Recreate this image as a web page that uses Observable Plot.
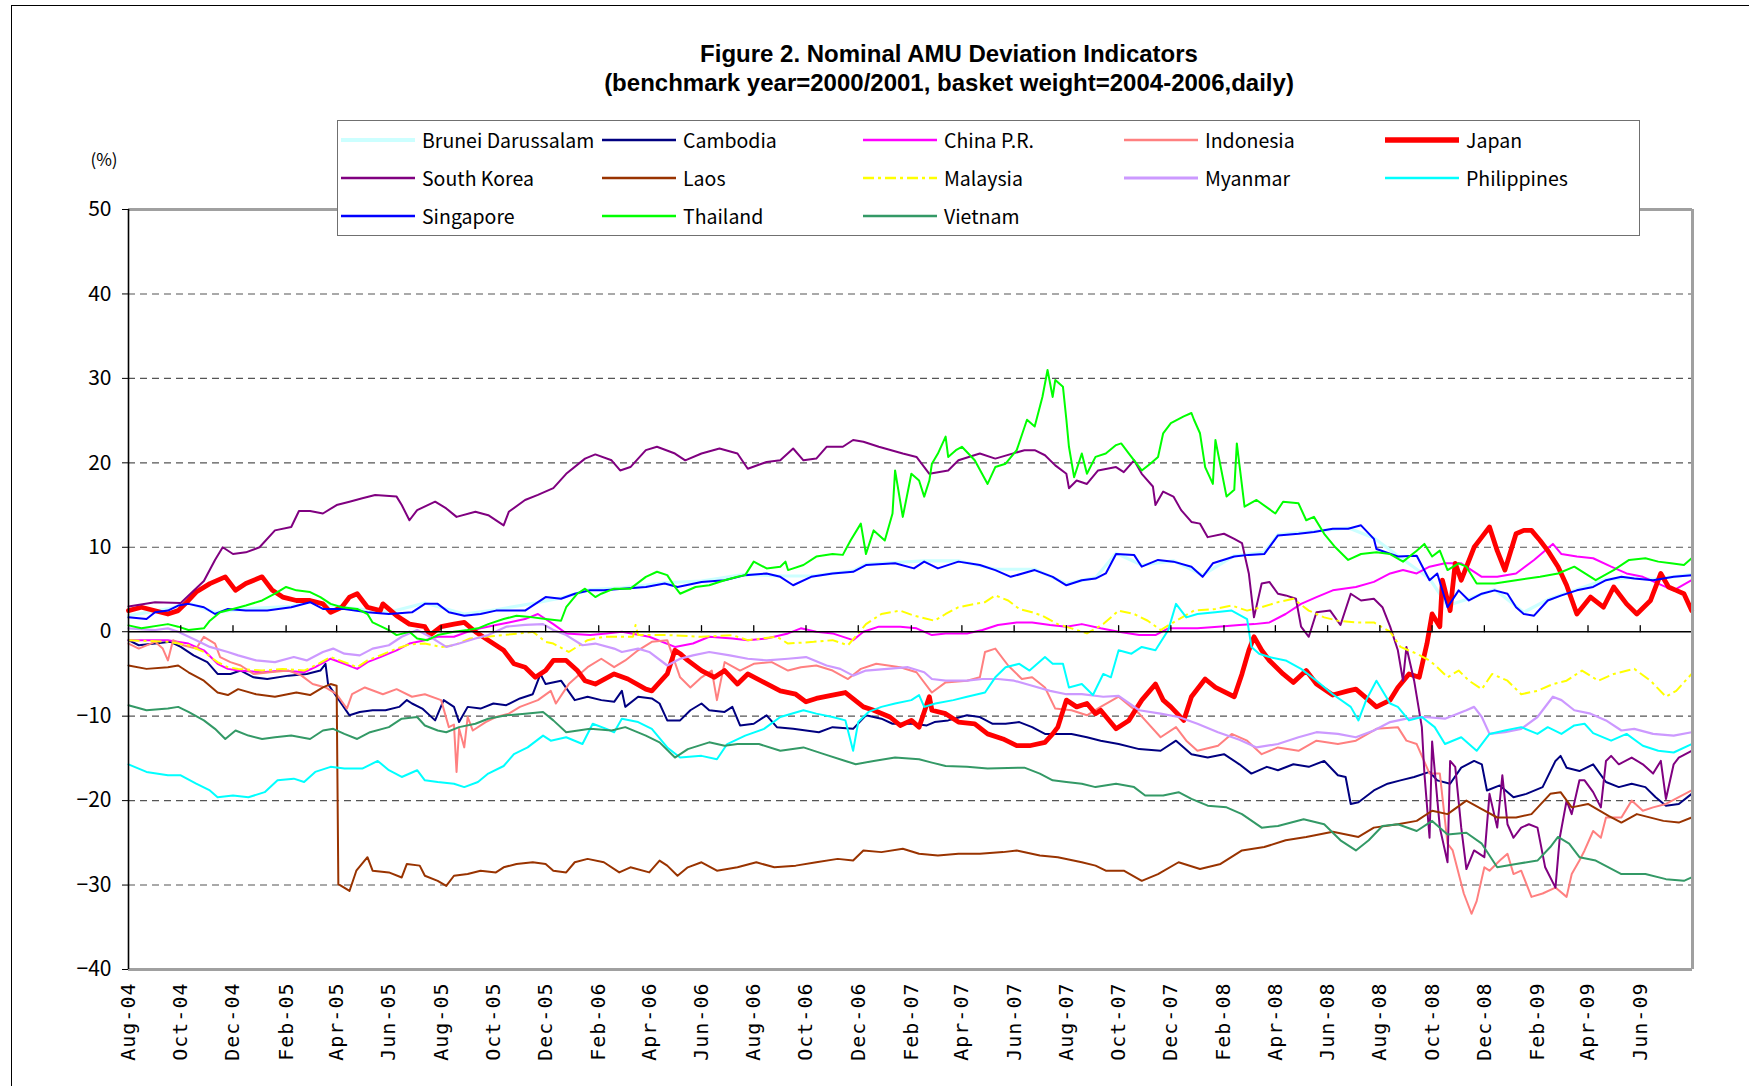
<!DOCTYPE html>
<html>
<head>
<meta charset="utf-8">
<script src="https://cdn.jsdelivr.net/npm/d3@7"></script>
<script src="https://cdn.jsdelivr.net/npm/@observablehq/plot@0.6"></script>
<style>
  body { margin: 0; background: #fff; }
  #wrap { position: relative; width: 1749px; height: 1086px; overflow: hidden; background: #fff;
          font-family: "Noto Sans CJK JP", "Noto Sans", sans-serif; }
  #chart { position: absolute; left: 0; top: 0; }
  #outer { position: absolute; left: 11px; top: 5px; width: 1800px; height: 1200px;
           border-left: 1px solid #000; border-top: 1px solid #000; pointer-events: none; }
  .title { position: absolute; left: 449px; width: 1000px; text-align: center; font-weight: bold;
           font-family: "Liberation Sans", Arial, sans-serif;
           font-size: 24px; line-height: 27px; height: 27px; color: #000; white-space: nowrap; }
  #legend { position: absolute; left: 337px; top: 120px; width: 1301px; height: 114px;
            border: 1.5px solid #707070; background: #fff; }
  #legend .lbl { position: absolute; font-size: 19.5px; line-height: 24px; white-space: nowrap; color: #000; }
  #legend svg { position: absolute; }
  #unit { position: absolute; left: 84px; top: 146px; width: 40px; text-align: center; font-size: 17px; }
</style>
</head>
<body>
<div id="wrap">
  <div id="chart"></div>
  <div id="outer"></div>
  <div class="title" style="top:40px">Figure 2. Nominal AMU Deviation Indicators</div>
  <div class="title" style="top:69px">(benchmark year=2000/2001, basket weight=2004-2006,daily)</div>
  <div id="unit">(%)</div>
  <div id="legend"></div>
</div>
<script>
// ---------- tick labels ----------
const xTickLabels = ["Aug-04","Oct-04","Dec-04","Feb-05","Apr-05","Jun-05","Aug-05","Oct-05","Dec-05",
  "Feb-06","Apr-06","Jun-06","Aug-06","Oct-06","Dec-06","Feb-07","Apr-07","Jun-07","Aug-07","Oct-07",
  "Dec-07","Feb-08","Apr-08","Jun-08","Aug-08","Oct-08","Dec-08","Feb-09","Apr-09","Jun-09"];
const yTicks = [-40, -30, -20, -10, 0, 10, 20, 30, 40, 50];
const xDomain = ["2004-08-01", "2009-08-01"];

// ---------- series (date, % deviation) ----------
const brunei = [["2004-08-01",1.9],["2004-09-16",2.7],["2004-10-10",3.4],["2004-11-10",2.3],["2004-12-16",2.7],["2005-02-07",3.0],["2005-03-01",3.6],["2005-04-10",2.9],["2005-06-01",2.3],["2005-07-13",3.4],["2005-08-28",2.1],["2005-10-04",2.6],["2005-11-19",3.4],["2005-12-19",4.0],["2006-01-22",5.0],["2006-03-01",5.2],["2006-04-19",5.8],["2006-06-01",6.0],["2006-07-22",6.8],["2006-09-01",6.6],["2006-10-07",6.6],["2006-11-25",7.2],["2006-12-10",8.0],["2007-01-13",8.2],["2007-02-16",8.4],["2007-03-28",8.4],["2007-05-10",7.4],["2007-06-25",7.4],["2007-08-01",5.7],["2007-09-04",6.4],["2007-09-28",9.3],["2007-10-28",7.9],["2007-12-04",8.4],["2008-01-07",6.7],["2008-02-13",9.0],["2008-03-19",9.4],["2008-04-04",11.5],["2008-05-16",11.9],["2008-06-25",12.3],["2008-07-25",11.1],["2008-08-22",9.0],["2008-09-28",6.3],["2008-10-19",3.1],["2008-11-13",3.9],["2008-12-13",5.0],["2009-01-16",2.3],["2009-02-13",3.8],["2009-03-19",5.0],["2009-04-22",6.2],["2009-05-25",6.4],["2009-06-16",6.2],["2009-07-31",6.8]];

const cambodia = [["2004-08-01",-1.0],["2004-08-13",-1.6],["2004-09-01",-1.4],["2004-09-19",-1.2],["2004-10-01",-1.8],["2004-10-16",-2.8],["2004-11-01",-3.6],["2004-11-13",-5.0],["2004-11-28",-5.0],["2004-12-10",-4.6],["2004-12-25",-5.4],["2005-01-10",-5.6],["2005-02-04",-5.2],["2005-02-25",-5.0],["2005-03-13",-4.6],["2005-03-19",-3.8],["2005-03-22",-6.2],["2005-04-01",-7.7],["2005-04-16",-9.9],["2005-04-28",-9.5],["2005-05-13",-9.3],["2005-05-28",-9.3],["2005-06-13",-8.9],["2005-06-22",-8.1],["2005-06-28",-8.5],["2005-07-10",-9.1],["2005-07-25",-10.5],["2005-08-04",-8.1],["2005-08-16",-8.9],["2005-08-22",-10.7],["2005-09-01",-8.9],["2005-09-16",-9.1],["2005-10-01",-8.5],["2005-10-16",-8.7],["2005-11-01",-7.9],["2005-11-16",-7.4],["2005-11-25",-5.0],["2005-12-01",-6.2],["2005-12-19",-5.8],["2006-01-04",-8.1],["2006-01-19",-7.7],["2006-02-04",-8.1],["2006-02-19",-8.3],["2006-02-28",-7.0],["2006-03-04",-8.9],["2006-03-19",-7.7],["2006-04-04",-7.9],["2006-04-13",-8.5],["2006-04-22",-10.5],["2006-05-07",-10.5],["2006-05-19",-9.3],["2006-06-01",-8.5],["2006-06-10",-9.3],["2006-06-28",-9.5],["2006-07-07",-8.9],["2006-07-16",-11.1],["2006-08-01",-10.9],["2006-08-16",-9.9],["2006-08-28",-11.3],["2006-09-16",-11.5],["2006-10-01",-11.7],["2006-10-16",-11.9],["2006-11-01",-11.3],["2006-11-25",-11.5],["2006-12-10",-9.9],["2006-12-28",-10.3],["2007-01-10",-10.9],["2007-02-04",-10.9],["2007-02-19",-11.1],["2007-02-28",-10.7],["2007-03-16",-10.5],["2007-04-07",-9.9],["2007-04-22",-10.1],["2007-05-07",-10.9],["2007-05-22",-10.9],["2007-06-07",-10.7],["2007-06-22",-11.3],["2007-07-07",-12.1],["2007-08-07",-12.1],["2007-08-25",-12.5],["2007-09-10",-12.9],["2007-10-01",-13.3],["2007-10-25",-13.9],["2007-11-19",-14.1],["2007-12-07",-12.9],["2007-12-25",-14.5],["2008-01-13",-14.9],["2008-02-01",-14.5],["2008-02-19",-15.7],["2008-03-04",-16.8],["2008-03-22",-16.0],["2008-04-04",-16.4],["2008-04-22",-15.7],["2008-05-10",-16.0],["2008-05-28",-15.3],["2008-06-13",-17.0],["2008-06-22",-17.2],["2008-06-28",-20.4],["2008-07-07",-20.2],["2008-07-25",-18.8],["2008-08-10",-18.0],["2008-08-25",-17.6],["2008-09-10",-17.2],["2008-09-28",-16.6],["2008-10-07",-17.6],["2008-10-22",-18.0],["2008-11-04",-16.1],["2008-11-19",-15.3],["2008-11-28",-15.7],["2008-12-04",-18.8],["2008-12-19",-18.2],["2009-01-04",-19.6],["2009-01-19",-19.2],["2009-02-07",-18.4],["2009-02-22",-15.3],["2009-02-28",-14.7],["2009-03-07",-16.1],["2009-03-22",-16.5],["2009-04-07",-15.7],["2009-04-22",-17.8],["2009-05-07",-18.4],["2009-05-22",-18.0],["2009-06-07",-18.4],["2009-06-19",-19.6],["2009-07-01",-20.6],["2009-07-16",-20.4],["2009-07-31",-19.2]];

const china = [["2004-08-01",-1.0],["2004-09-16",-1.0],["2004-10-10",-1.4],["2004-10-28",-2.2],["2004-11-13",-3.8],["2004-11-25",-4.4],["2004-12-07",-4.6],["2005-01-04",-4.8],["2005-01-28",-4.6],["2005-02-22",-4.8],["2005-03-07",-4.2],["2005-03-25",-3.2],["2005-04-10",-3.8],["2005-04-25",-4.4],["2005-05-07",-3.6],["2005-05-22",-3.0],["2005-06-10",-2.2],["2005-06-25",-1.4],["2005-07-13",-1.0],["2005-07-28",-0.6],["2005-08-16",-0.6],["2005-09-01",0.0],["2005-09-16",0.4],["2005-10-04",0.8],["2005-10-19",1.1],["2005-11-07",1.5],["2005-11-22",2.1],["2005-12-10",0.9],["2005-12-25",-0.2],["2006-01-22",-0.4],["2006-02-10",-0.2],["2006-02-28",0.0],["2006-04-01",-0.6],["2006-05-01",-1.8],["2006-05-22",-1.4],["2006-06-10",-0.6],["2006-07-07",-0.8],["2006-07-25",-1.0],["2006-08-16",-0.8],["2006-09-10",-0.2],["2006-09-25",0.4],["2006-10-13",0.0],["2006-11-01",-0.2],["2006-11-25",-1.0],["2006-12-07",0.0],["2006-12-25",0.6],["2007-01-19",0.6],["2007-02-07",0.4],["2007-02-25",-0.4],["2007-03-13",-0.2],["2007-04-07",-0.2],["2007-04-25",0.2],["2007-05-13",0.8],["2007-06-04",1.1],["2007-06-22",1.1],["2007-07-13",0.8],["2007-08-01",0.6],["2007-08-19",0.9],["2007-09-10",0.4],["2007-10-01",0.0],["2007-10-25",-0.4],["2007-11-13",-0.4],["2007-11-28",0.4],["2008-01-01",0.4],["2008-01-25",0.6],["2008-02-19",0.8],["2008-03-07",0.9],["2008-03-25",1.1],["2008-04-13",2.1],["2008-05-01",3.3],["2008-05-19",4.1],["2008-06-07",4.9],["2008-07-04",5.3],["2008-07-25",5.9],["2008-08-13",6.9],["2008-08-28",7.3],["2008-09-13",6.9],["2008-09-28",7.7],["2008-10-16",8.1],["2008-11-04",8.1],["2008-11-16",7.3],["2008-11-28",6.5],["2008-12-16",6.5],["2009-01-07",6.9],["2009-01-28",8.5],["2009-02-19",10.4],["2009-03-01",9.2],["2009-03-19",8.9],["2009-04-07",8.7],["2009-04-28",7.7],["2009-05-16",6.9],["2009-06-04",6.5],["2009-06-22",5.7],["2009-07-10",4.9],["2009-07-31",6.1]];

const indonesia = [["2004-08-01",-1.4],["2004-08-13",-2.0],["2004-09-01",-1.2],["2004-09-10",-2.0],["2004-09-16",-3.4],["2004-09-22",-1.0],["2004-10-04",-1.6],["2004-10-19",-2.0],["2004-10-28",-0.6],["2004-11-10",-1.4],["2004-11-16",-3.0],["2004-11-28",-3.6],["2004-12-10",-4.0],["2004-12-25",-5.0],["2005-01-13",-4.8],["2005-02-04",-4.6],["2005-02-19",-5.2],["2005-03-04",-6.2],["2005-03-19",-6.6],["2005-04-01",-7.4],["2005-04-13",-9.1],["2005-04-19",-7.4],["2005-05-04",-6.6],["2005-05-25",-7.4],["2005-06-10",-6.8],["2005-06-28",-7.7],["2005-07-13",-7.4],["2005-08-01",-8.1],["2005-08-10",-11.3],["2005-08-16",-11.0],["2005-08-19",-16.6],["2005-08-22",-11.5],["2005-08-28",-13.7],["2005-09-01",-10.1],["2005-09-07",-11.7],["2005-09-22",-10.7],["2005-10-04",-10.1],["2005-10-19",-9.7],["2005-11-01",-8.9],["2005-11-22",-8.1],["2005-12-07",-7.0],["2005-12-13",-8.5],["2005-12-28",-6.2],["2006-01-10",-5.0],["2006-01-19",-4.2],["2006-02-04",-3.2],["2006-02-19",-4.2],["2006-03-04",-3.4],["2006-03-19",-2.2],["2006-04-04",-1.2],["2006-04-22",-1.0],["2006-05-07",-5.4],["2006-05-19",-6.6],["2006-06-01",-5.4],["2006-06-13",-4.6],["2006-06-19",-8.1],["2006-06-28",-3.6],["2006-07-16",-4.6],["2006-08-01",-3.8],["2006-08-22",-3.6],["2006-09-10",-4.6],["2006-09-25",-4.2],["2006-10-13",-4.0],["2006-11-01",-4.6],["2006-11-19",-5.6],["2006-12-04",-4.4],["2006-12-22",-3.8],["2007-01-19",-4.2],["2007-02-07",-4.8],["2007-02-25",-7.2],["2007-03-13",-6.0],["2007-04-07",-5.8],["2007-04-22",-5.4],["2007-04-28",-2.4],["2007-05-10",-2.0],["2007-05-25",-4.0],["2007-06-10",-5.6],["2007-06-22",-5.4],["2007-07-07",-6.6],["2007-07-19",-9.1],["2007-08-07",-9.3],["2007-08-25",-9.9],["2007-09-10",-8.9],["2007-10-01",-7.7],["2007-10-25",-9.7],["2007-11-19",-12.5],["2007-12-07",-11.3],["2007-12-19",-12.9],["2008-01-01",-14.1],["2008-01-25",-13.5],["2008-02-10",-12.1],["2008-02-28",-12.9],["2008-03-16",-14.5],["2008-04-04",-13.7],["2008-04-28",-14.1],["2008-05-19",-12.9],["2008-06-13",-13.3],["2008-07-04",-12.9],["2008-07-28",-11.5],["2008-08-22",-11.3],["2008-09-01",-12.9],["2008-09-13",-13.3],["2008-09-28",-16.8],["2008-10-10",-16.8],["2008-10-19",-25.1],["2008-10-25",-25.9],["2008-11-07",-31.0],["2008-11-16",-33.4],["2008-11-22",-31.9],["2008-12-01",-27.9],["2008-12-07",-28.3],["2008-12-19",-27.1],["2008-12-28",-26.3],["2009-01-04",-28.7],["2009-01-13",-28.3],["2009-01-25",-31.4],["2009-02-07",-31.0],["2009-02-22",-30.3],["2009-03-07",-31.4],["2009-03-13",-28.7],["2009-03-22",-27.1],["2009-03-28",-25.9],["2009-04-07",-23.6],["2009-04-16",-24.4],["2009-04-22",-22.0],["2009-05-10",-22.0],["2009-05-22",-20.0],["2009-06-04",-21.2],["2009-06-16",-20.8],["2009-07-01",-20.4],["2009-07-16",-19.6],["2009-07-31",-18.8]];

const japan = [["2004-08-01",2.5],["2004-08-16",2.9],["2004-09-16",2.1],["2004-09-28",2.5],["2004-10-10",3.7],["2004-10-19",4.7],["2004-11-04",5.7],["2004-11-22",6.5],["2004-12-04",4.9],["2004-12-16",5.7],["2005-01-04",6.5],["2005-01-16",4.9],["2005-01-28",4.1],["2005-02-13",3.7],["2005-03-01",3.7],["2005-03-16",3.3],["2005-03-25",2.3],["2005-04-07",2.9],["2005-04-16",4.1],["2005-04-25",4.5],["2005-05-07",2.9],["2005-05-22",2.5],["2005-05-25",3.3],["2005-06-10",1.9],["2005-06-25",0.9],["2005-07-13",0.6],["2005-07-19",-0.4],["2005-08-01",0.6],["2005-08-16",0.9],["2005-08-28",1.1],["2005-09-10",0.0],["2005-09-25",-1.0],["2005-10-13",-2.2],["2005-10-25",-3.8],["2005-11-07",-4.2],["2005-11-19",-5.4],["2005-12-01",-4.6],["2005-12-10",-3.4],["2005-12-25",-3.4],["2006-01-07",-4.6],["2006-01-16",-5.8],["2006-01-28",-6.2],["2006-02-19",-5.0],["2006-03-07",-5.6],["2006-03-28",-6.8],["2006-04-04",-7.0],["2006-04-22",-5.0],["2006-05-01",-2.2],["2006-05-07",-2.6],["2006-05-16",-3.4],["2006-06-01",-4.6],["2006-06-16",-5.4],["2006-06-28",-4.6],["2006-07-13",-6.2],["2006-07-25",-5.0],["2006-08-13",-6.0],["2006-09-01",-7.0],["2006-09-19",-7.4],["2006-10-01",-8.3],["2006-10-13",-7.9],["2006-11-01",-7.5],["2006-11-16",-7.2],["2006-12-07",-8.9],["2006-12-19",-9.3],["2007-01-07",-10.1],["2007-01-19",-11.1],["2007-02-01",-10.5],["2007-02-10",-11.3],["2007-02-22",-7.7],["2007-02-25",-9.3],["2007-03-13",-9.7],["2007-03-28",-10.7],["2007-04-16",-10.9],["2007-05-01",-12.1],["2007-05-19",-12.7],["2007-06-04",-13.5],["2007-06-19",-13.5],["2007-07-07",-13.1],["2007-07-16",-12.1],["2007-07-22",-11.3],["2007-08-01",-8.1],["2007-08-13",-8.9],["2007-08-25",-8.5],["2007-09-04",-9.7],["2007-09-10",-9.3],["2007-09-28",-11.5],["2007-10-13",-10.5],["2007-10-28",-8.1],["2007-11-13",-6.2],["2007-11-22",-8.1],["2007-12-01",-8.9],["2007-12-16",-10.5],["2007-12-25",-7.7],["2008-01-10",-5.6],["2008-01-22",-6.6],["2008-02-13",-7.7],["2008-02-22",-5.0],["2008-03-01",-2.2],["2008-03-07",-0.6],["2008-03-16",-2.2],["2008-03-25",-3.4],["2008-04-10",-5.0],["2008-04-22",-6.0],["2008-05-07",-4.6],["2008-05-19",-6.2],["2008-06-07",-7.5],["2008-06-25",-7.0],["2008-07-04",-6.8],["2008-07-19",-8.1],["2008-07-28",-8.9],["2008-08-13",-8.1],["2008-08-22",-6.6],["2008-09-04",-5.0],["2008-09-16",-5.4],["2008-09-25",-1.4],["2008-10-01",2.1],["2008-10-10",0.6],["2008-10-13",6.1],["2008-10-22",2.5],["2008-10-28",8.1],["2008-11-04",6.1],["2008-11-19",10.0],["2008-11-28",11.2],["2008-12-07",12.4],["2008-12-16",9.6],["2008-12-25",7.3],["2009-01-07",11.6],["2009-01-16",12.0],["2009-01-25",12.0],["2009-02-04",10.8],["2009-02-13",9.6],["2009-02-25",7.7],["2009-03-07",5.5],["2009-03-19",2.1],["2009-04-04",4.1],["2009-04-19",2.9],["2009-05-01",5.3],["2009-05-16",3.3],["2009-05-28",2.1],["2009-06-13",3.7],["2009-06-25",6.9],["2009-07-04",5.3],["2009-07-13",4.9],["2009-07-22",4.5],["2009-07-31",2.5]];

const korea = [["2004-08-01",3.0],["2004-09-01",3.5],["2004-10-01",3.4],["2004-10-28",6.0],["2004-11-10",8.5],["2004-11-19",10.0],["2004-12-01",9.2],["2004-12-16",9.4],["2005-01-01",10.0],["2005-01-19",12.0],["2005-02-07",12.4],["2005-02-16",14.3],["2005-03-01",14.3],["2005-03-16",14.0],["2005-04-01",15.0],["2005-04-16",15.4],["2005-05-01",15.8],["2005-05-16",16.2],["2005-06-10",16.0],["2005-06-16",15.0],["2005-06-25",13.2],["2005-07-04",14.4],["2005-07-25",15.4],["2005-08-07",14.6],["2005-08-19",13.6],["2005-09-10",14.2],["2005-09-25",13.8],["2005-10-13",12.6],["2005-10-19",14.2],["2005-11-07",15.6],["2005-11-22",16.2],["2005-12-10",17.0],["2005-12-25",18.7],["2006-01-16",20.5],["2006-01-28",21.0],["2006-02-16",20.3],["2006-02-26",19.1],["2006-03-10",19.5],["2006-03-28",21.5],["2006-04-10",21.9],["2006-05-01",21.1],["2006-05-13",20.3],["2006-06-01",21.1],["2006-06-22",21.7],["2006-07-13",21.1],["2006-07-25",19.3],["2006-08-16",20.1],["2006-09-01",20.3],["2006-09-16",21.7],["2006-09-28",20.3],["2006-10-13",20.5],["2006-10-25",21.9],["2006-11-13",21.9],["2006-11-25",22.7],["2006-12-07",22.5],["2006-12-25",21.9],["2007-01-22",21.1],["2007-02-07",20.7],["2007-02-22",18.7],["2007-03-16",19.1],["2007-03-28",20.3],["2007-04-22",21.1],["2007-05-10",20.5],["2007-06-13",21.5],["2007-06-25",21.5],["2007-07-07",20.9],["2007-07-19",19.7],["2007-08-01",18.7],["2007-08-04",17.0],["2007-08-13",17.9],["2007-08-25",17.5],["2007-09-07",19.1],["2007-09-28",19.5],["2007-10-07",18.9],["2007-10-19",20.3],["2007-10-28",18.7],["2007-11-10",17.2],["2007-11-13",15.0],["2007-11-22",16.6],["2007-12-04",16.0],["2007-12-13",14.4],["2007-12-25",13.0],["2008-01-04",12.8],["2008-01-13",11.2],["2008-02-01",11.6],["2008-02-13",11.0],["2008-02-22",10.5],["2008-03-01",6.9],["2008-03-07",1.7],["2008-03-16",5.7],["2008-03-25",5.9],["2008-04-04",4.5],["2008-04-13",4.3],["2008-04-25",3.9],["2008-05-01",0.6],["2008-05-10",-0.6],["2008-05-19",2.3],["2008-06-04",2.5],["2008-06-16",0.8],["2008-06-28",4.5],["2008-07-10",3.7],["2008-07-25",3.9],["2008-08-04",2.9],["2008-08-13",0.6],["2008-08-22",-2.2],["2008-08-28",-5.8],["2008-09-01",-1.8],["2008-09-10",-5.8],["2008-09-19",-11.3],["2008-09-22",-16.8],["2008-09-28",-24.4],["2008-10-01",-13.0],["2008-10-10",-23.2],["2008-10-19",-27.3],["2008-10-22",-15.3],["2008-10-28",-16.0],["2008-11-04",-23.2],["2008-11-10",-28.1],["2008-11-19",-25.9],["2008-12-01",-26.7],["2008-12-07",-19.2],["2008-12-16",-23.2],["2008-12-22",-17.0],["2008-12-28",-22.8],["2009-01-04",-24.4],["2009-01-13",-23.2],["2009-01-22",-22.8],["2009-02-01",-23.2],["2009-02-10",-27.9],["2009-02-22",-30.3],["2009-02-27",-24.4],["2009-03-07",-20.0],["2009-03-13",-21.6],["2009-03-22",-17.6],["2009-03-28",-17.6],["2009-04-07",-19.0],["2009-04-16",-20.8],["2009-04-22",-15.3],["2009-04-28",-14.7],["2009-05-07",-15.7],["2009-05-22",-14.9],["2009-06-04",-15.7],["2009-06-16",-16.8],["2009-06-25",-15.3],["2009-07-01",-19.8],["2009-07-10",-15.7],["2009-07-16",-14.9],["2009-07-31",-14.1]];

const laos = [["2004-08-01",-4.0],["2004-08-22",-4.4],["2004-09-16",-4.2],["2004-09-28",-4.0],["2004-10-10",-4.8],["2004-10-28",-5.8],["2004-11-13",-7.2],["2004-11-25",-7.5],["2004-12-07",-6.8],["2004-12-28",-7.4],["2005-01-19",-7.7],["2005-02-13",-7.2],["2005-03-01",-7.5],["2005-03-16",-6.6],["2005-03-25",-6.2],["2005-04-01",-6.4],["2005-04-03",-29.9],["2005-04-16",-30.7],["2005-04-24",-28.3],["2005-05-07",-26.7],["2005-05-13",-28.3],["2005-06-01",-28.5],["2005-06-16",-29.1],["2005-06-22",-27.5],["2005-07-07",-27.7],["2005-07-13",-28.9],["2005-07-28",-29.5],["2005-08-07",-30.1],["2005-08-16",-28.9],["2005-09-01",-28.7],["2005-09-16",-28.3],["2005-10-04",-28.5],["2005-10-13",-27.9],["2005-10-28",-27.5],["2005-11-16",-27.3],["2005-12-01",-27.5],["2005-12-10",-28.3],["2005-12-25",-28.5],["2006-01-04",-27.3],["2006-01-19",-26.9],["2006-02-07",-27.3],["2006-02-25",-28.5],["2006-03-10",-27.9],["2006-04-01",-28.5],["2006-04-13",-27.1],["2006-04-22",-27.7],["2006-05-04",-28.9],["2006-05-16",-27.9],["2006-06-01",-27.3],["2006-06-19",-28.3],["2006-07-13",-27.9],["2006-08-04",-27.3],["2006-08-25",-27.9],["2006-09-19",-27.7],["2006-10-13",-27.3],["2006-11-07",-26.9],["2006-11-25",-27.1],["2006-12-07",-25.9],["2006-12-28",-26.1],["2007-01-22",-25.7],["2007-02-10",-26.3],["2007-03-04",-26.5],["2007-03-28",-26.3],["2007-04-22",-26.3],["2007-05-19",-26.1],["2007-06-04",-25.9],["2007-07-01",-26.5],["2007-07-22",-26.7],["2007-08-19",-27.3],["2007-09-04",-27.7],["2007-09-16",-28.3],["2007-10-07",-28.3],["2007-10-28",-29.5],["2007-11-16",-28.7],["2007-12-10",-27.3],["2008-01-04",-28.1],["2008-01-28",-27.5],["2008-02-22",-25.9],["2008-03-19",-25.5],["2008-04-13",-24.7],["2008-05-07",-24.3],["2008-06-07",-23.7],["2008-07-07",-24.3],["2008-07-25",-23.2],["2008-08-22",-22.8],["2008-09-13",-22.4],["2008-10-01",-21.2],["2008-10-19",-21.6],["2008-11-10",-20.0],["2008-11-28",-21.0],["2008-12-16",-22.0],["2009-01-07",-22.0],["2009-01-25",-21.6],["2009-02-16",-19.2],["2009-02-28",-19.0],["2009-03-13",-20.8],["2009-04-01",-20.4],["2009-04-25",-21.8],["2009-05-10",-22.6],["2009-05-28",-21.6],["2009-06-28",-22.4],["2009-07-16",-22.6],["2009-07-31",-22.0]];

const malaysia = [["2004-08-01",-1.0],["2004-09-16",-1.2],["2004-10-10",-1.6],["2004-10-28",-2.4],["2004-11-13",-3.6],["2004-11-25",-4.2],["2004-12-07",-4.4],["2005-01-04",-4.6],["2005-01-28",-4.4],["2005-02-22",-4.6],["2005-03-07",-4.0],["2005-03-25",-3.0],["2005-04-10",-3.6],["2005-04-25",-4.2],["2005-05-07",-3.4],["2005-05-22",-2.8],["2005-06-10",-2.0],["2005-06-25",-1.5],["2005-07-13",-1.4],["2005-08-01",-1.8],["2005-08-16",-1.6],["2005-09-04",-0.8],["2005-09-22",-0.6],["2005-11-01",-0.2],["2005-11-16",0.0],["2005-12-01",-1.2],["2005-12-10",-1.4],["2005-12-28",-2.4],["2006-01-19",-1.0],["2006-02-07",-0.6],["2006-03-13",-0.6],["2006-03-16",0.8],["2006-03-19",-0.4],["2006-04-22",-0.4],["2006-06-01",-0.6],["2006-07-07",-0.4],["2006-07-25",-1.0],["2006-08-28",-0.6],["2006-09-10",-1.4],["2006-10-10",-1.2],["2006-11-01",-1.0],["2006-11-19",-1.6],["2006-12-01",-0.2],["2006-12-10",0.9],["2006-12-28",2.1],["2007-01-19",2.5],["2007-02-04",1.9],["2007-02-28",1.3],["2007-03-13",2.1],["2007-03-28",2.9],["2007-04-16",3.3],["2007-04-28",3.5],["2007-05-10",4.3],["2007-05-25",3.7],["2007-06-07",2.7],["2007-06-22",2.3],["2007-07-04",1.9],["2007-07-22",0.9],["2007-08-07",0.4],["2007-08-25",-0.2],["2007-09-13",0.9],["2007-10-01",2.5],["2007-10-19",2.1],["2007-11-04",1.3],["2007-11-19",0.2],["2007-12-07",1.3],["2007-12-28",2.5],["2008-01-22",2.7],["2008-02-10",3.1],["2008-02-28",2.5],["2008-03-16",2.9],["2008-04-04",3.5],["2008-04-22",3.9],["2008-05-10",2.5],["2008-05-28",1.7],["2008-06-13",1.3],["2008-07-04",1.1],["2008-07-25",1.1],["2008-08-13",0.0],["2008-08-25",-1.8],["2008-09-13",-2.6],["2008-09-28",-3.4],["2008-10-07",-4.2],["2008-10-19",-5.4],["2008-11-01",-4.6],["2008-11-13",-5.8],["2008-11-28",-6.8],["2008-12-10",-5.0],["2008-12-28",-5.8],["2009-01-13",-7.4],["2009-02-01",-7.0],["2009-02-19",-6.2],["2009-03-07",-5.8],["2009-03-25",-4.6],["2009-04-13",-5.8],["2009-05-01",-5.0],["2009-05-25",-4.4],["2009-06-13",-5.8],["2009-07-01",-7.7],["2009-07-13",-7.0],["2009-07-31",-5.0]];

const myanmar = [["2004-08-01",0.4],["2004-09-01",0.2],["2004-09-16",0.4],["2004-09-28",0.0],["2004-10-19",-1.0],["2004-11-04",-1.8],["2004-11-25",-2.4],["2004-12-07",-2.8],["2004-12-28",-3.4],["2005-01-19",-3.6],["2005-02-10",-3.0],["2005-02-25",-3.4],["2005-03-16",-2.4],["2005-03-28",-2.0],["2005-04-10",-2.6],["2005-04-28",-2.8],["2005-05-13",-2.0],["2005-06-01",-1.6],["2005-06-16",-0.6],["2005-07-04",0.2],["2005-07-19",-0.6],["2005-08-07",-1.8],["2005-08-22",-1.4],["2005-09-10",-0.8],["2005-09-25",-0.4],["2005-10-16",0.6],["2005-11-07",0.8],["2005-11-28",0.9],["2005-12-10",0.2],["2005-12-25",-0.4],["2006-01-13",-1.6],["2006-01-28",-1.4],["2006-02-19",-2.0],["2006-02-28",-2.4],["2006-03-19",-2.0],["2006-04-01",-2.4],["2006-04-22",-4.0],["2006-05-07",-3.2],["2006-05-22",-2.8],["2006-06-10",-2.4],["2006-07-04",-2.8],["2006-07-25",-3.2],["2006-08-16",-3.4],["2006-09-10",-3.2],["2006-10-01",-3.0],["2006-10-25",-4.0],["2006-11-10",-4.4],["2006-11-25",-5.2],["2006-12-10",-4.6],["2007-01-04",-4.4],["2007-01-28",-4.2],["2007-02-16",-4.8],["2007-02-25",-5.6],["2007-03-13",-5.8],["2007-04-07",-5.8],["2007-04-25",-5.6],["2007-05-13",-5.6],["2007-06-01",-5.8],["2007-06-22",-6.4],["2007-07-13",-7.0],["2007-08-01",-7.4],["2007-08-19",-7.4],["2007-09-13",-7.7],["2007-10-01",-7.6],["2007-10-25",-9.3],["2007-11-19",-9.7],["2007-12-10",-10.1],["2008-01-01",-10.9],["2008-01-25",-11.9],["2008-02-19",-12.8],["2008-03-10",-13.7],["2008-04-04",-13.3],["2008-04-28",-12.5],["2008-05-19",-11.9],["2008-06-13",-12.1],["2008-07-04",-12.5],["2008-07-25",-11.7],["2008-08-13",-10.7],["2008-09-01",-10.3],["2008-09-22",-10.1],["2008-10-16",-10.3],["2008-11-10",-9.3],["2008-11-19",-8.9],["2008-11-28",-10.1],["2008-12-07",-12.1],["2008-12-25",-11.9],["2009-01-13",-11.5],["2009-02-01",-10.1],["2009-02-19",-7.7],["2009-03-01",-8.1],["2009-03-16",-9.3],["2009-04-04",-9.7],["2009-04-22",-10.5],["2009-05-10",-11.7],["2009-05-25",-11.5],["2009-06-16",-12.1],["2009-07-10",-12.3],["2009-07-31",-11.9]];

const philippines = [["2004-08-01",-15.7],["2004-08-22",-16.6],["2004-09-16",-17.0],["2004-10-01",-17.0],["2004-10-19",-18.0],["2004-11-04",-18.8],["2004-11-13",-19.6],["2004-12-01",-19.4],["2004-12-19",-19.6],["2005-01-07",-19.0],["2005-01-22",-17.6],["2005-02-10",-17.4],["2005-02-22",-17.8],["2005-03-07",-16.6],["2005-03-25",-16.0],["2005-04-10",-16.2],["2005-05-01",-16.2],["2005-05-19",-15.3],["2005-06-01",-16.4],["2005-06-16",-17.2],["2005-07-04",-16.4],["2005-07-13",-17.6],["2005-07-28",-17.8],["2005-08-16",-18.0],["2005-08-28",-18.4],["2005-09-13",-17.8],["2005-09-25",-16.8],["2005-10-13",-15.9],["2005-10-25",-14.5],["2005-11-10",-13.7],["2005-11-28",-12.3],["2005-12-07",-12.9],["2005-12-25",-12.5],["2006-01-13",-13.3],["2006-01-25",-10.9],["2006-02-10",-11.5],["2006-02-19",-11.9],["2006-02-28",-10.3],["2006-03-19",-10.7],["2006-04-04",-11.5],["2006-04-22",-13.7],["2006-05-07",-14.9],["2006-06-01",-14.7],["2006-06-19",-15.1],["2006-07-01",-13.3],["2006-07-22",-12.3],["2006-08-13",-11.5],["2006-09-01",-10.1],["2006-09-28",-9.3],["2006-10-13",-9.7],["2006-11-01",-10.1],["2006-11-16",-10.5],["2006-11-25",-14.1],["2006-12-01",-10.7],["2006-12-13",-9.5],["2006-12-28",-8.9],["2007-01-13",-8.5],["2007-02-01",-8.1],["2007-02-10",-7.5],["2007-02-16",-8.9],["2007-03-01",-8.5],["2007-03-22",-8.1],["2007-04-07",-7.7],["2007-04-28",-7.2],["2007-05-10",-5.4],["2007-05-22",-4.2],["2007-06-07",-3.8],["2007-06-19",-4.6],["2007-07-07",-3.0],["2007-07-16",-3.8],["2007-07-28",-3.8],["2007-08-04",-6.6],["2007-08-19",-6.2],["2007-09-01",-7.5],["2007-09-13",-5.0],["2007-09-22",-5.4],["2007-10-01",-2.2],["2007-10-16",-2.6],["2007-10-28",-1.8],["2007-11-13",-2.2],["2007-11-28",0.2],["2007-12-07",3.3],["2007-12-19",1.7],["2008-01-01",2.1],["2008-01-22",2.3],["2008-02-10",2.5],["2008-02-28",1.5],["2008-03-04",-1.8],["2008-03-13",-2.6],["2008-03-25",-3.0],["2008-04-13",-3.4],["2008-05-01",-4.4],["2008-05-19",-5.8],["2008-06-07",-7.4],["2008-06-28",-8.9],["2008-07-07",-10.5],["2008-07-16",-8.1],["2008-07-28",-5.8],["2008-08-13",-8.5],["2008-08-22",-8.9],["2008-09-04",-10.5],["2008-09-19",-10.1],["2008-10-04",-11.3],["2008-10-16",-13.3],["2008-11-04",-12.5],["2008-11-22",-14.1],["2008-12-07",-12.1],["2008-12-25",-11.7],["2009-01-13",-11.3],["2009-02-01",-12.1],["2009-02-13",-11.3],["2009-03-01",-12.1],["2009-03-16",-11.1],["2009-03-28",-10.9],["2009-04-07",-12.0],["2009-04-28",-12.9],["2009-05-16",-12.1],["2009-06-04",-13.5],["2009-06-22",-14.1],["2009-07-10",-14.3],["2009-07-31",-13.3]];

const singapore = [["2004-08-01",1.7],["2004-08-22",1.5],["2004-09-01",2.3],["2004-09-16",2.5],["2004-09-28",3.1],["2004-10-10",3.3],["2004-10-28",2.9],["2004-11-10",2.1],["2004-11-25",2.7],["2004-12-16",2.5],["2005-01-10",2.5],["2005-02-07",2.9],["2005-03-01",3.5],["2005-03-16",2.7],["2005-04-10",2.7],["2005-05-07",2.3],["2005-06-01",2.1],["2005-06-28",2.3],["2005-07-13",3.3],["2005-07-28",3.3],["2005-08-10",2.3],["2005-08-28",1.9],["2005-09-16",2.1],["2005-10-04",2.5],["2005-11-07",2.5],["2005-11-19",3.3],["2005-12-01",4.1],["2005-12-19",3.9],["2006-01-04",4.5],["2006-01-22",4.9],["2006-02-07",4.9],["2006-03-01",5.1],["2006-03-28",5.3],["2006-04-19",5.7],["2006-05-04",5.3],["2006-06-01",5.9],["2006-06-28",6.1],["2006-07-22",6.7],["2006-08-16",6.9],["2006-09-01",6.5],["2006-09-16",5.5],["2006-10-07",6.5],["2006-11-01",6.9],["2006-11-25",7.1],["2006-12-10",7.9],["2007-01-13",8.1],["2007-02-04",7.5],["2007-02-16",8.3],["2007-03-04",7.5],["2007-03-28",8.3],["2007-04-22",7.9],["2007-05-10",7.3],["2007-05-28",6.5],["2007-06-25",7.3],["2007-07-16",6.5],["2007-08-01",5.5],["2007-08-19",6.1],["2007-09-04",6.3],["2007-09-16",6.9],["2007-09-28",9.2],["2007-10-19",9.1],["2007-10-28",7.7],["2007-11-16",8.5],["2007-12-04",8.3],["2007-12-25",7.7],["2008-01-07",6.5],["2008-01-19",8.1],["2008-02-13",8.9],["2008-03-01",9.1],["2008-03-19",9.2],["2008-04-04",11.4],["2008-04-28",11.6],["2008-05-16",11.8],["2008-06-07",12.2],["2008-06-25",12.2],["2008-07-10",12.6],["2008-07-25",11.0],["2008-07-28",9.8],["2008-08-22",8.9],["2008-09-13",9.0],["2008-09-28",6.1],["2008-10-07",6.9],["2008-10-19",2.9],["2008-11-01",4.9],["2008-11-13",3.7],["2008-11-28",4.5],["2008-12-13",4.9],["2008-12-28",4.5],["2009-01-07",2.9],["2009-01-16",2.1],["2009-01-28",1.9],["2009-02-13",3.7],["2009-03-01",4.3],["2009-03-19",4.9],["2009-04-07",5.3],["2009-04-22",6.1],["2009-05-10",6.5],["2009-05-25",6.3],["2009-06-16",6.1],["2009-07-10",6.5],["2009-07-31",6.7]];

const thailand = [["2004-08-01",0.75],["2004-08-16",0.4],["2004-09-16",0.9],["2004-09-28",0.6],["2004-10-10",0.2],["2004-10-28",0.4],["2004-11-04",1.3],["2004-11-16",2.3],["2004-12-01",2.7],["2004-12-16",3.1],["2005-01-04",3.7],["2005-01-19",4.5],["2005-02-01",5.3],["2005-02-13",4.9],["2005-03-01",4.7],["2005-03-13",4.1],["2005-03-25",3.3],["2005-04-07",2.9],["2005-04-25",2.7],["2005-05-07",2.1],["2005-05-13",1.1],["2005-06-01",0.2],["2005-06-10",-0.4],["2005-06-25",0.0],["2005-07-04",-0.8],["2005-07-16",-1.0],["2005-07-28",-0.4],["2005-08-16",0.0],["2005-09-01",0.2],["2005-09-13",0.4],["2005-09-25",0.9],["2005-10-13",1.5],["2005-10-28",1.9],["2005-11-16",1.7],["2005-12-01",1.5],["2005-12-19",1.3],["2005-12-25",2.9],["2006-01-07",4.5],["2006-01-16",5.1],["2006-01-28",4.1],["2006-02-04",4.5],["2006-02-19",5.1],["2006-03-10",5.1],["2006-03-28",6.5],["2006-04-10",7.1],["2006-04-22",6.7],["2006-05-01",5.3],["2006-05-07",4.5],["2006-05-25",5.3],["2006-06-10",5.5],["2006-06-28",6.1],["2006-07-13",6.5],["2006-07-22",6.7],["2006-08-01",8.3],["2006-08-16",7.5],["2006-09-01",7.7],["2006-09-07",8.3],["2006-09-10",7.3],["2006-09-28",7.9],["2006-10-13",8.9],["2006-11-01",9.2],["2006-11-13",9.1],["2006-11-22",10.8],["2006-12-04",12.8],["2006-12-10",9.2],["2006-12-19",12.0],["2007-01-01",10.8],["2007-01-10",14.0],["2007-01-13",19.1],["2007-01-22",13.6],["2007-02-01",18.7],["2007-02-10",17.9],["2007-02-16",16.0],["2007-02-22",17.9],["2007-02-25",19.9],["2007-03-04",21.1],["2007-03-13",23.1],["2007-03-16",20.7],["2007-03-25",21.5],["2007-04-01",21.9],["2007-04-16",20.3],["2007-05-01",17.5],["2007-05-10",19.5],["2007-05-22",19.9],["2007-06-04",21.5],["2007-06-16",25.1],["2007-06-25",24.3],["2007-07-04",27.8],["2007-07-10",31.0],["2007-07-16",27.8],["2007-07-19",29.8],["2007-07-28",29.0],["2007-08-01",25.1],["2007-08-04",21.9],["2007-08-10",18.3],["2007-08-19",21.1],["2007-08-25",18.7],["2007-09-04",20.7],["2007-09-16",21.1],["2007-09-28",22.1],["2007-10-04",22.3],["2007-10-13",21.1],["2007-10-28",19.1],["2007-11-07",19.9],["2007-11-16",20.7],["2007-11-22",23.5],["2007-12-01",24.7],["2007-12-16",25.5],["2007-12-25",25.9],["2007-12-28",25.1],["2008-01-04",23.5],["2008-01-10",19.5],["2008-01-19",17.5],["2008-01-22",22.7],["2008-02-04",16.0],["2008-02-13",16.8],["2008-02-16",22.3],["2008-02-25",14.8],["2008-03-10",15.6],["2008-04-01",14.0],["2008-04-10",15.4],["2008-04-28",15.2],["2008-05-07",13.2],["2008-05-16",13.6],["2008-05-28",11.6],["2008-06-10",10.0],["2008-06-25",8.5],["2008-07-10",9.2],["2008-07-28",9.4],["2008-08-13",9.2],["2008-08-28",8.3],["2008-09-13",9.6],["2008-09-22",10.4],["2008-10-01",8.9],["2008-10-10",9.6],["2008-10-19",7.3],["2008-11-01",8.1],["2008-11-10",7.7],["2008-11-22",5.7],["2008-12-13",5.7],["2009-01-07",6.1],["2009-02-04",6.5],["2009-02-25",6.9],["2009-03-16",7.7],["2009-04-10",6.1],["2009-05-01",7.3],["2009-05-19",8.5],["2009-06-07",8.7],["2009-06-22",8.3],["2009-07-07",8.1],["2009-07-22",7.9],["2009-07-31",8.7]];

const vietnam = [["2004-08-01",-8.7],["2004-08-22",-9.3],["2004-09-16",-9.1],["2004-09-28",-8.9],["2004-10-10",-9.5],["2004-10-28",-10.5],["2004-11-10",-11.5],["2004-11-22",-12.7],["2004-12-04",-11.7],["2004-12-19",-12.3],["2005-01-04",-12.7],["2005-01-19",-12.5],["2005-02-07",-12.3],["2005-03-01",-12.7],["2005-03-16",-11.7],["2005-03-28",-11.5],["2005-04-10",-12.1],["2005-04-25",-12.7],["2005-05-10",-11.9],["2005-06-01",-11.3],["2005-06-16",-10.3],["2005-07-04",-10.1],["2005-07-13",-11.1],["2005-07-28",-11.7],["2005-08-07",-11.9],["2005-08-22",-11.3],["2005-09-10",-10.9],["2005-09-25",-10.3],["2005-10-16",-9.9],["2005-11-07",-9.7],["2005-11-28",-9.5],["2005-12-10",-10.5],["2005-12-25",-11.9],["2006-01-22",-11.5],["2006-02-16",-11.7],["2006-03-04",-11.3],["2006-03-28",-12.3],["2006-04-13",-13.1],["2006-05-01",-14.9],["2006-05-16",-13.9],["2006-06-10",-13.1],["2006-06-28",-13.5],["2006-07-13",-13.3],["2006-08-07",-13.3],["2006-09-01",-14.1],["2006-09-28",-13.7],["2006-10-22",-14.5],["2006-11-16",-15.3],["2006-11-28",-15.7],["2006-12-19",-15.3],["2007-01-13",-14.9],["2007-02-10",-15.1],["2007-02-25",-15.5],["2007-03-13",-15.9],["2007-04-07",-16.0],["2007-05-01",-16.2],["2007-06-13",-16.1],["2007-07-01",-16.8],["2007-07-16",-17.6],["2007-08-01",-17.8],["2007-08-19",-18.0],["2007-09-04",-18.4],["2007-09-28",-18.0],["2007-10-19",-18.4],["2007-11-01",-19.4],["2007-11-22",-19.4],["2007-12-10",-19.0],["2007-12-25",-19.8],["2008-01-13",-20.6],["2008-02-04",-20.8],["2008-02-22",-21.6],["2008-03-16",-23.2],["2008-04-04",-23.0],["2008-05-04",-22.2],["2008-05-28",-22.8],["2008-06-16",-24.7],["2008-07-04",-25.9],["2008-07-19",-24.7],["2008-08-04",-23.0],["2008-08-22",-22.8],["2008-09-13",-23.6],["2008-10-01",-22.4],["2008-10-19",-24.0],["2008-11-10",-23.8],["2008-11-28",-25.1],["2008-12-16",-27.9],["2009-01-07",-27.5],["2009-02-01",-27.1],["2009-02-16",-25.5],["2009-02-25",-24.3],["2009-03-10",-25.1],["2009-03-22",-26.7],["2009-04-10",-27.1],["2009-05-10",-28.7],["2009-06-07",-28.7],["2009-07-01",-29.3],["2009-07-22",-29.5],["2009-07-31",-29.1]];

// ---------- series table (legend order = drawing order) ----------
const seriesNames = ["Brunei Darussalam","Cambodia","China P.R.","Indonesia","Japan","South Korea","Laos",
  "Malaysia","Myanmar","Philippines","Singapore","Thailand","Vietnam"];
const seriesData = [brunei, cambodia, china, indonesia, japan, korea, laos, malaysia, myanmar, philippines, singapore, thailand, vietnam];
const seriesColors = ["#ccffff","#000080","#ff00ff","#ff8080","#ff0000","#800080","#993300",
  "#ffff00","#cc99ff","#00ffff","#0000ff","#00ff00","#339966"];
const seriesWidths = [3.2, 2, 2, 2, 4.8, 2, 2, 2, 2.2, 2, 2, 2, 2];
const seriesDash = [null,null,null,null,null,null,null,"11,4,3,4",null,null,null,null,null];

const parseDay = d3.utcParse("%Y-%m-%d");
const parseTick = d3.utcParse("%b-%y");
const xTicks = xTickLabels.map(parseTick);
const tickLabelOf = new Map(xTicks.map((d, i) => [+d, xTickLabels[i]]));

const lineMarks = seriesData.map((data, i) => Plot.line(data, {
  x: d => parseDay(d[0]),
  y: d => d[1],
  stroke: seriesColors[i],
  strokeWidth: seriesWidths[i],
  strokeDasharray: seriesDash[i] || undefined,
  strokeLinejoin: "round",
  strokeLinecap: seriesDash[i] ? "butt" : "round"
}));

const tickShape = { draw(ctx, l) { ctx.moveTo(0, 0); ctx.lineTo(0, -l); } };
const dom = xDomain.map(parseDay);

const chart = Plot.plot({
  width: 1749,
  height: 1086,
  marginLeft: 128,
  marginRight: 57,
  marginTop: 209,
  marginBottom: 117,
  style: { fontFamily: '"Noto Sans CJK JP", "Noto Sans", sans-serif', fontSize: "20px", background: "transparent", color: "#000" },
  x: { type: "utc", domain: dom },
  y: { domain: [-40, 50] },
  marks: [
    Plot.ruleY(yTicks.filter(v => v !== 0 && v !== 50 && v !== -40), { stroke: "#555", strokeWidth: 1.1, strokeDasharray: "7,5" }),
    ...lineMarks,
    Plot.ruleY([0], { stroke: "#000", strokeWidth: 1.6 }),
    Plot.vector(xTicks.slice(1), { x: d => d, y: 0, length: 6, rotate: 0, anchor: "start", shape: tickShape, stroke: "#000", strokeWidth: 1.3 }),
    Plot.ruleY([50, -40], { stroke: "#a0a0a0", strokeWidth: 3 }),
    Plot.ruleX([dom[1]], { stroke: "#a0a0a0", strokeWidth: 3 }),
    Plot.ruleX([dom[0]], { stroke: "#000", strokeWidth: 1.6 }),
    Plot.axisY({ ticks: yTicks, tickSize: 6, tickPadding: 11, fontSize: 21, tickFormat: d => d < 0 ? "\u2212" + Math.abs(d) : String(d) }),
    Plot.axisX({ ticks: xTicks, tickFormat: d => tickLabelOf.get(+d), tickRotate: -90, tickSize: 0, tickPadding: 13,
                 fontSize: 20, fontFamily: '"DejaVu Sans Mono", monospace' })
  ]
});
document.getElementById("chart").appendChild(chart);
chart.querySelectorAll('g[aria-label="x-axis tick label"] text').forEach(t => t.setAttribute("letter-spacing", "1"));

// ---------- legend ----------
const legend = document.getElementById("legend");
const colStep = 261, rowTop = [19, 57, 95];
seriesNames.forEach((name, i) => {
  const col = i % 5, row = Math.floor(i / 5);
  const ns = "http://www.w3.org/2000/svg";
  const svg = document.createElementNS(ns, "svg");
  svg.setAttribute("width", 74); svg.setAttribute("height", 12);
  svg.style.left = (3 + col * colStep) + "px";
  svg.style.top = (rowTop[row] - 6) + "px";
  const ln = document.createElementNS(ns, "line");
  ln.setAttribute("x1", 0); ln.setAttribute("x2", 74); ln.setAttribute("y1", 6); ln.setAttribute("y2", 6);
  ln.setAttribute("stroke", seriesColors[i]);
  ln.setAttribute("stroke-width", seriesWidths[i] + 0.6);
  if (seriesDash[i]) ln.setAttribute("stroke-dasharray", seriesDash[i]);
  svg.appendChild(ln);
  legend.appendChild(svg);
  const lbl = document.createElement("div");
  lbl.className = "lbl";
  lbl.textContent = name;
  lbl.style.left = (84 + col * colStep) + "px";
  lbl.style.top = (rowTop[row] - 12) + "px";
  legend.appendChild(lbl);
});
</script>
</body>
</html>
